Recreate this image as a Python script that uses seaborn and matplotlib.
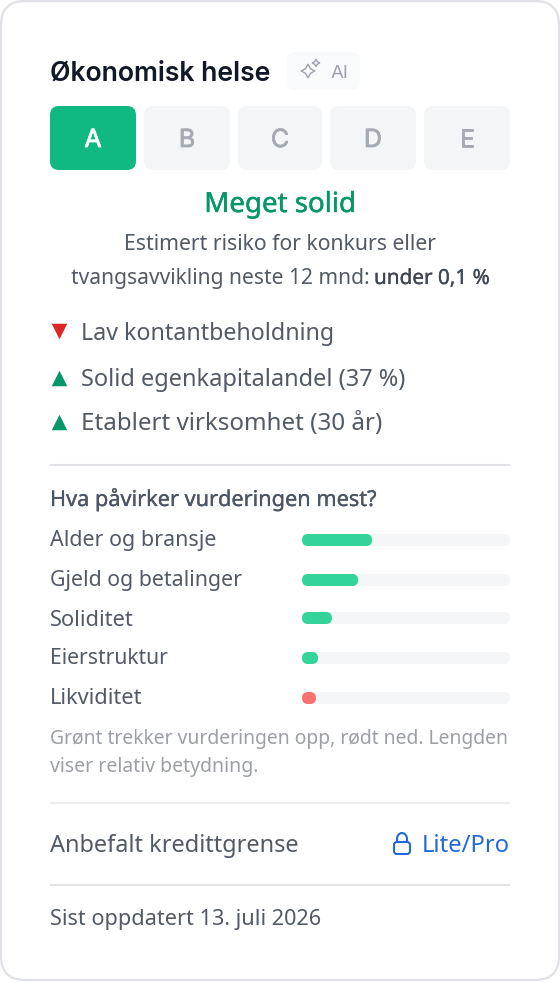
import numpy as np
import pandas as pd
import seaborn as sns
import matplotlib
matplotlib.use('Agg')
import matplotlib.pyplot as plt
import matplotlib.patheffects as pe
from matplotlib.patches import FancyBboxPatch, Arc

title = 'Økonomisk helse'
grades = ['A', 'B', 'C', 'D', 'E']
rating = 'Meget solid'
signal_labels = ['Lav kontantbeholdning', 'Solid egenkapitalandel (37 %)', 'Etablert virksomhet (30 år)']
signal_dirs = ['down', 'up', 'up']
factors = ['Alder og bransje', 'Gjeld og betalinger', 'Soliditet', 'Eierstruktur', 'Likviditet']
factor_values = [33.7, 27.0, 14.4, 7.7, 6.7]
factor_signs = ['pos', 'pos', 'pos', 'pos', 'neg']

W, H = 560, 982
FONT = 'Noto Sans'
TXT = '#525a66'
NOTE = '#9ca0a6'
LINK = '#2268d8'

sns.set_theme(style='white')
plt.rcParams['font.family'] = [FONT, 'DejaVu Sans']

fig = plt.figure(figsize=(W / 100, H / 100), dpi=100, facecolor='white')
ax = fig.add_axes([0, 0, 1, 1])
ax.set_xlim(0, W)
ax.set_ylim(H, 0)
ax.axis('off')


# skriv tekst og skaler den til bredden i bildet, stroke gir litt tyngre skrift
def put(x, y, s, width, color=TXT, weight='normal', ha='left', family=None, stroke=0):
    t = ax.text(x, y, s, color=color, weight=weight, ha=ha, va='baseline', fontsize=12,
                family=family or [FONT, 'DejaVu Sans'])
    w = t.get_window_extent(fig.canvas.get_renderer()).width
    t.set_fontsize(12 * width / w)
    if stroke:
        t.set_path_effects([pe.withStroke(linewidth=stroke, foreground=color)])
    return t


def box(x0, y0, x1, y1, r, fc, ec='none', lw=0):
    p = FancyBboxPatch((x0 + r, y0 + r), x1 - x0 - 2 * r, y1 - y0 - 2 * r,
                       boxstyle='round,pad=%f,rounding_size=%f' % (r, r),
                       fc=fc, ec=ec, lw=lw)
    ax.add_patch(p)
    return p


def rule(y, color):
    ax.plot([50, 510], [y, y], color=color, lw=1.5, solid_capstyle='butt')


# kort
box(1, 1, 559, 980, 24, 'white', '#dfe1e6', 1.6)

# overskrift
put(50, 80, title, 222, color='#111827', weight='semibold', family='Inter')
box(287, 52, 360, 90, 8, '#f9fafb')
ax.scatter([308], [71], marker=(4, 1, 0), s=95, fc='none', ec='#9ca3af', lw=1)
ax.scatter([316], [63], marker=(4, 1, 0), s=28, fc='none', ec='#9ca3af', lw=1)
put(331, 78, 'AI', 18, color='#9ca3af', family='Inter')

# karakterer
xs = [(50, 136), (144, 230), (238, 322), (330, 416), (424, 510)]
for g, (x0, x1) in zip(grades, xs):
    active = g == grades[0]
    box(x0, 106, x1, 170, 9, '#10b981' if active else '#f3f5f6')
    col = 'white' if active else '#a6abb3'
    t = ax.text((x0 + x1) / 2, 147, g, ha='center', va='baseline', fontsize=18,
                family='Inter', color=col)
    t.set_path_effects([pe.withStroke(linewidth=0.6, foreground=col)])

put(280, 212, rating, 151, color='#059669', ha='center', stroke=0.3)
put(280, 250, 'Estimert risiko for konkurs eller', 312, ha='center')
put(71, 284, 'tvangsavvikling neste 12 mnd:', 298)
put(374, 284, 'under 0,1 %', 116, color='#3f4754', stroke=0.2)

# signaler
signal_marker_y = [331, 378, 422]
signal_base = [340, 386, 430]
signal_w = [252, 324, 300]
for i, (lab, d) in enumerate(zip(signal_labels, signal_dirs)):
    ax.scatter([59], [signal_marker_y[i]], marker='v' if d == 'down' else '^', s=125, lw=0,
               color='#dc2626' if d == 'down' else '#059669')
    put(81, signal_base[i], lab, signal_w[i])

rule(465, '#e1e3e7')
put(50, 506, 'Hva påvirker vurderingen mest?', 326, color='#4b5563', stroke=0.2)

# en rad per faktor, radene står ikke helt jevnt i bildet
row_mid = [540, 580, 618, 658, 698]
label_base = [546, 586, 626, 664, 704]
label_w = [165, 191, 83, 118, 92]
for i, f in enumerate(factors):
    put(50, label_base[i], f, label_w[i])
    rax = fig.add_axes([302 / W, 1 - (row_mid[i] + 6) / H, 208 / W, 12 / H])
    rax.patch.set_alpha(0)
    df = pd.DataFrame({'factor': [f], 'value': [factor_values[i]], 'track': [100]})
    sns.barplot(data=df, x='track', y='factor', color='#f3f5f6', width=1, saturation=1, ax=rax)
    sns.barplot(data=df, x='value', y='factor', width=1, saturation=1, ax=rax,
                color='#34d399' if factor_signs[i] == 'pos' else '#f87171')
    rax.set_xlim(0, 100)
    rax.set_ylim(0.5, -0.5)
    rax.axis('off')
    # runde ender: stolpene fra seaborn blir tegnet om som avrundede bokser
    for bar in list(rax.patches):
        e = bar.get_window_extent(fig.canvas.get_renderer())
        box(e.x0, H - e.y1, e.x1, H - e.y0, 6, bar.get_facecolor())
        bar.set_visible(False)

put(50, 744, 'Grønt trekker vurderingen opp, rødt ned. Lengden', 458, color=NOTE)
put(50, 772, 'viser relativ betydning.', 208, color=NOTE)

rule(803, '#eceef0')
put(50, 852, 'Anbefalt kredittgrense', 248)

# lås
ax.add_patch(FancyBboxPatch((395, 843), 14, 10, boxstyle='round,pad=1,rounding_size=3',
                            fc='none', ec=LINK, lw=1.5))
ax.add_patch(Arc((402, 839), 10, 12, theta1=180, theta2=360, ec=LINK, lw=1.5))
ax.plot([397, 397], [839, 842], color=LINK, lw=1.5)
ax.plot([407, 407], [839, 842], color=LINK, lw=1.5)
put(422, 852, 'Lite/Pro', 88, color=LINK)

rule(885, '#e1e3e7')
put(50, 925, 'Sist oppdatert 13. juli 2026', 270)

fig.savefig('out.png', dpi=100, facecolor='white')
